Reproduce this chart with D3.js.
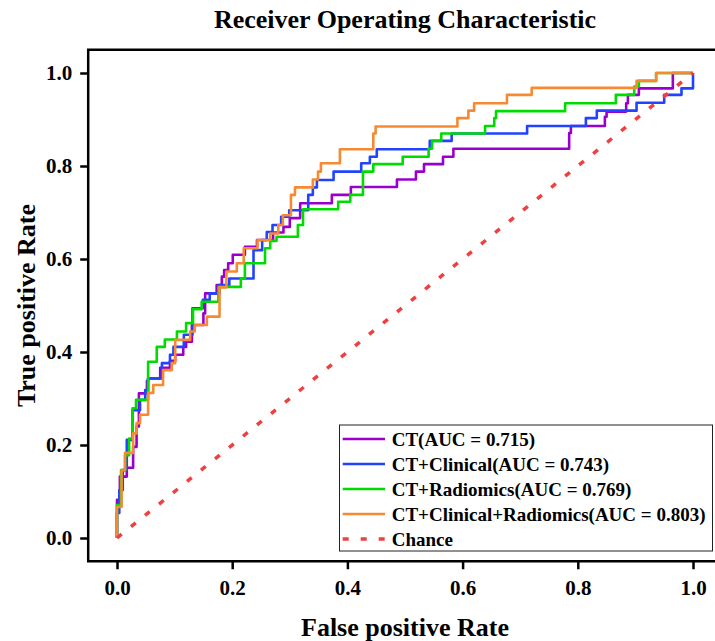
<!DOCTYPE html>
<html>
<head>
<meta charset="utf-8">
<script src="https://cdn.jsdelivr.net/npm/d3@7.9.0/dist/d3.min.js"></script>
<style>
  html, body { margin: 0; padding: 0; background: #fff; }
  svg { display: block; }
  text { font-family: "Liberation Serif", "Times New Roman", serif; font-weight: bold; fill: #000; }
</style>
</head>
<body>
<div id="chart"></div>
<script>
// ---- data ----
const tickValues = [0, 0.2, 0.4, 0.6, 0.8, 1.0];
const modelNames = ['CT', 'CT+Clinical', 'CT+Radiomics', 'CT+Clinical+Radiomics'];
const aucValues = [0.715, 0.743, 0.769, 0.803];

// ROC points: each point is where the curve jumps up (step after)
const ctFpr = [0, 0, 0.005, 0.017, 0.028, 0.034, 0.038, 0.052, 0.054, 0.075, 0.092, 0.101, 0.115, 0.120, 0.130, 0.150, 0.153, 0.173, 0.182, 0.186, 0.193, 0.201, 0.222, 0.243, 0.271, 0.289, 0.300, 0.318, 0.373, 0.406, 0.486, 0.519, 0.533, 0.566, 0.584, 0.785, 0.788, 0.847, 0.850, 0.884, 0.887, 0.906, 0.965, 1.0];
const ctTpr = [0, 0.082, 0.132, 0.151, 0.196, 0.240, 0.311, 0.338, 0.343, 0.366, 0.381, 0.394, 0.411, 0.422, 0.458, 0.483, 0.526, 0.544, 0.562, 0.576, 0.591, 0.609, 0.626, 0.641, 0.657, 0.669, 0.688, 0.720, 0.738, 0.755, 0.771, 0.788, 0.804, 0.820, 0.837, 0.871, 0.886, 0.906, 0.917, 0.935, 0.953, 0.967, 1.0, 1.0];

const clinFpr = [0, 0, 0.004, 0.010, 0.017, 0.027, 0.040, 0.049, 0.054, 0.078, 0.092, 0.098, 0.116, 0.131, 0.149, 0.161, 0.178, 0.195, 0.237, 0.252, 0.260, 0.270, 0.285, 0.299, 0.332, 0.340, 0.347, 0.376, 0.424, 0.439, 0.451, 0.543, 0.581, 0.712, 0.814, 0.833, 0.902, 0.950, 0.980, 1.0];
const clinTpr = [0, 0.054, 0.103, 0.146, 0.211, 0.275, 0.297, 0.318, 0.343, 0.376, 0.394, 0.411, 0.437, 0.494, 0.512, 0.526, 0.544, 0.558, 0.619, 0.641, 0.658, 0.673, 0.691, 0.705, 0.738, 0.754, 0.770, 0.788, 0.806, 0.820, 0.836, 0.854, 0.870, 0.886, 0.903, 0.919, 0.936, 0.953, 0.967, 1.0];

const radFpr = [0, 0, 0.007, 0.014, 0.021, 0.027, 0.033, 0.054, 0.069, 0.083, 0.104, 0.120, 0.132, 0.147, 0.176, 0.215, 0.222, 0.257, 0.266, 0.277, 0.314, 0.323, 0.384, 0.405, 0.427, 0.445, 0.496, 0.541, 0.547, 0.563, 0.639, 0.655, 0.658, 0.778, 0.866, 0.898, 0.906, 0.936, 1.0];
const radTpr = [0, 0.071, 0.146, 0.178, 0.214, 0.279, 0.297, 0.379, 0.411, 0.427, 0.444, 0.462, 0.492, 0.508, 0.540, 0.558, 0.591, 0.623, 0.639, 0.648, 0.673, 0.707, 0.723, 0.738, 0.788, 0.804, 0.820, 0.837, 0.854, 0.870, 0.886, 0.903, 0.918, 0.935, 0.953, 0.971, 0.983, 1.0, 1.0];

const allFpr = [0, 0, 0.008, 0.014, 0.028, 0.034, 0.040, 0.054, 0.063, 0.080, 0.095, 0.101, 0.127, 0.135, 0.156, 0.178, 0.190, 0.208, 0.220, 0.244, 0.266, 0.280, 0.288, 0.302, 0.309, 0.340, 0.349, 0.354, 0.387, 0.445, 0.449, 0.591, 0.610, 0.620, 0.677, 0.720, 0.902, 0.936, 1.0];
const allTpr = [0, 0.067, 0.146, 0.183, 0.225, 0.247, 0.265, 0.312, 0.329, 0.361, 0.376, 0.426, 0.444, 0.458, 0.476, 0.539, 0.573, 0.591, 0.623, 0.641, 0.655, 0.673, 0.694, 0.738, 0.754, 0.771, 0.788, 0.806, 0.836, 0.870, 0.885, 0.903, 0.919, 0.935, 0.953, 0.968, 0.983, 1.0, 1.0];

const chanceFpr = [0, 1];
const chanceTpr = [0, 1];

// styles
const modelColors = ['#9a00cc', '#2142ff', '#00dc00', '#f68a32'];
const chanceColor = '#ee4040';

function buildSeries() {
  const fprs = [ctFpr, clinFpr, radFpr, allFpr];
  const tprs = [ctTpr, clinTpr, radTpr, allTpr];
  return modelNames.map((name, i) => ({
    label: `${name}(AUC = ${aucValues[i].toFixed(3)})`,
    color: modelColors[i],
    points: d3.zip(fprs[i], tprs[i])
  }));
}

function renderChart(series) {
  const width = 715;
  const height = 641;

  const svg = d3.select('#chart')
    .append('svg')
      .attr('width', width)
      .attr('height', height);

  svg.append('rect').attr('width', width).attr('height', height).attr('fill', '#fff');

  const x = d3.scaleLinear().domain([-0.05, 1.05]).range([88.2, 721.8]);
  const y = d3.scaleLinear().domain([-0.05, 1.05]).range([561.25, 49.75]);

  svg.append('clipPath').attr('id', 'plot-clip')
    .append('rect')
      .attr('x', x(-0.05)).attr('y', y(1.05))
      .attr('width', x(1.05) - x(-0.05))
      .attr('height', y(-0.05) - y(1.05));

  // axes
  const fmt = d3.format('.1f');
  const xAxis = svg.append('g')
    .attr('transform', `translate(0,${y(-0.05)})`)
    .call(d3.axisBottom(x).tickValues(tickValues).tickFormat(fmt).tickSize(8).tickPadding(11));
  const yAxis = svg.append('g')
    .attr('transform', `translate(${x(-0.05)},0)`)
    .call(d3.axisLeft(y).tickValues(tickValues).tickFormat(fmt).tickSize(8).tickPadding(8));

  [xAxis, yAxis].forEach(g => {
    g.select('.domain').remove();
    g.selectAll('.tick line').attr('stroke', '#000').attr('stroke-width', 2.5);
    g.selectAll('.tick text')
      .attr('fill', '#000')
      .style('font-size', '21px')
      .style('font-family', '"Liberation Serif", "Times New Roman", serif')
      .style('font-weight', 'bold');
  });

  // curves
  const line = d3.line()
    .x(d => x(d[0]))
    .y(d => y(d[1]))
    .curve(d3.curveStepAfter);

  const plot = svg.append('g').attr('clip-path', 'url(#plot-clip)');

  plot.selectAll('path.roc')
    .data(series)
    .join('path')
      .attr('class', 'roc')
      .attr('d', d => line(d.points))
      .attr('fill', 'none')
      .attr('stroke', d => d.color)
      .attr('stroke-width', 2.6)
      .attr('stroke-linejoin', 'round');

  plot.append('path')
    .attr('d', line.curve(d3.curveLinear)(d3.zip(chanceFpr, chanceTpr)))
    .attr('fill', 'none')
    .attr('stroke', chanceColor)
    .attr('stroke-width', 3.5)
    .attr('stroke-dasharray', '6,12');

  // frame
  svg.append('rect')
    .attr('x', x(-0.05)).attr('y', y(1.05))
    .attr('width', x(1.05) - x(-0.05))
    .attr('height', y(-0.05) - y(1.05))
    .attr('fill', 'none')
    .attr('stroke', '#000')
    .attr('stroke-width', 2.5);

  // titles
  const midX = (x(-0.05) + x(1.05)) / 2;
  svg.append('text')
    .attr('x', midX).attr('y', 28)
    .attr('text-anchor', 'middle')
    .style('font-size', '26px')
    .text('Receiver Operating Characteristic');

  svg.append('text')
    .attr('x', midX).attr('y', 636)
    .attr('text-anchor', 'middle')
    .style('font-size', '26px')
    .text('False positive Rate');

  svg.append('text')
    .attr('transform', `translate(35,${(y(-0.05) + y(1.05)) / 2}) rotate(-90)`)
    .attr('text-anchor', 'middle')
    .style('font-size', '26px')
    .text('True positive Rate');

  // legend
  const legendItems = series.map(s => ({ label: s.label, color: s.color, dash: null }))
    .concat([{ label: 'Chance', color: chanceColor, dash: '6,12' }]);

  const legend = svg.append('g');
  legend.append('rect')
    .attr('x', 339.5).attr('y', 425)
    .attr('width', 373).attr('height', 126)
    .attr('fill', '#fff')
    .attr('stroke', '#222')
    .attr('stroke-width', 1);

  const rows = legend.selectAll('g.item')
    .data(legendItems)
    .join('g')
      .attr('class', 'item')
      .attr('transform', (d, i) => `translate(0,${439 + i * 25})`);

  rows.append('line')
    .attr('x1', 342.7).attr('x2', 385)
    .attr('stroke', d => d.color)
    .attr('stroke-width', d => d.dash ? 3.5 : 2.6)
    .attr('stroke-dasharray', d => d.dash);

  rows.append('text')
    .attr('x', 391.7)
    .attr('dy', '0.35em')
    .style('font-size', '19px')
    .text(d => d.label);
}

renderChart(buildSeries());
</script>
</body>
</html>
